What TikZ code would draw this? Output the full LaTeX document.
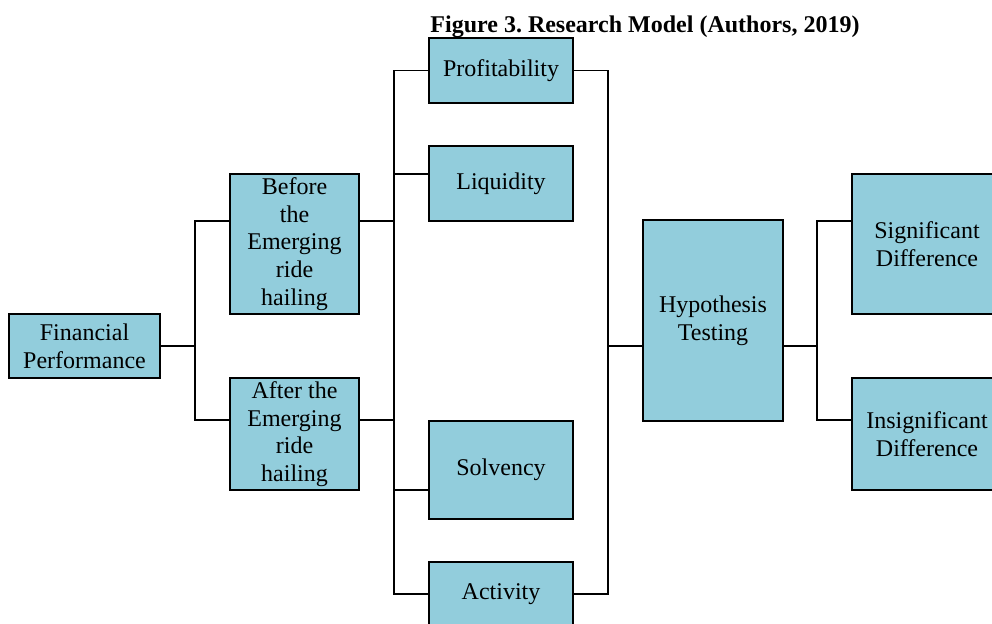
\documentclass[tikz,border=0pt]{standalone}
\usepackage{fontspec}
\setmainfont{Liberation Serif}
\usepackage{xcolor}
\definecolor{boxblue}{RGB}{146,205,220}
\frenchspacing

\begin{document}
\begin{tikzpicture}[x=0.5pt,y=-0.5pt]

\tikzset{model box/.style 2 args={
    draw, fill=boxblue, line width=0.75pt,
    minimum width=#1, minimum height=#2, inner sep=0pt,
    align=center, anchor=center,
    font=\fontsize{12}{13.8}\selectfont
  },
  link/.style={line width=0.75pt}
}

\clip (0,0) rectangle (992,623);

\node[anchor=base, font=\bfseries\fontsize{12}{14}\selectfont] (title) at (645,32)
  {Figure 3. Research Model (Authors, 2019)};

\node[model box={75.5pt}{32pt}] (fin) at (84.5,346) {Financial\\Performance};
\node[model box={64.5pt}{70pt}] (before) at (294.5,244) {Before\\the\\Emerging\\ride\\hailing};
\node[model box={64.5pt}{56pt}] (after) at (294.5,434) {After the\\Emerging\\ride\\hailing};

\node[model box={72pt}{32.5pt}] (profit) at (501,70.5) {Profitability};
\node[model box={72pt}{37.5pt}] (liquid) at (501,183.5) {Liquidity};
\node[model box={72pt}{49pt}] (solv) at (501,470) {Solvency};
\node[model box={72pt}{32pt}] (activ) at (501,594) {Activity};

\node[model box={70pt}{100.5pt}] (hyp) at (713,320.5) {Hypothesis\\Testing};

\node[model box={75pt}{70pt}] (sig) at (927,244) {Significant\\Difference};
\node[model box={75pt}{56pt}] (insig) at (927,434) {Insignificant\\Difference};

% vertical buses
\coordinate (left bus) at (195,0);
\coordinate (middle bus) at (394,0);
\coordinate (right bus) at (608,0);
\coordinate (out bus) at (817,0);

\draw[link] (fin.east) -- (fin.east -| left bus);
\draw[link] ([yshift=11.5pt]before.west) -| ([yshift=7pt]after.west -| left bus) -- ([yshift=7pt]after.west);

\draw[link] (profit.west) -| (activ.west -| middle bus) -- (activ.west);
\draw[link] ([yshift=11.5pt]before.east) -- ([yshift=11.5pt]before.east -| middle bus);
\draw[link] ([yshift=7pt]after.east) -- ([yshift=7pt]after.east -| middle bus);
\draw[link] ([yshift=4.75pt]liquid.west) -- ([yshift=4.75pt]liquid.west -| middle bus);
\draw[link] ([yshift=-10pt]solv.west) -- ([yshift=-10pt]solv.west -| middle bus);

\draw[link] (profit.east) -| (activ.east -| right bus) -- (activ.east);
\draw[link] ([yshift=-12.75pt]hyp.west) -- ([yshift=-12.75pt]hyp.west -| right bus);

\draw[link] ([yshift=-12.75pt]hyp.east) -- ([yshift=-12.75pt]hyp.east -| out bus);
\draw[link] ([yshift=11.5pt]sig.west) -| ([yshift=7pt]insig.west -| out bus) -- ([yshift=7pt]insig.west);

\end{tikzpicture}
\end{document}
